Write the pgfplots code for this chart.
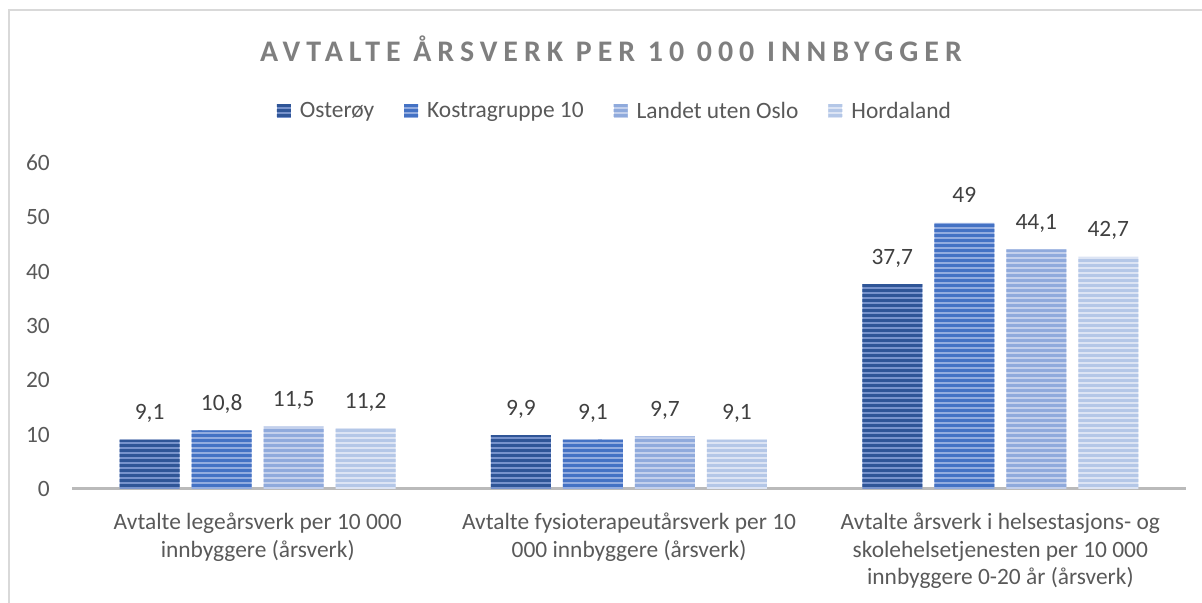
\documentclass[border=0pt]{standalone}
\usepackage{fontspec}
\setmainfont{Carlito}
\newfontfamily\titlefont[LetterSpace=20]{Carlito}
\usepackage{pgfplots}
\pgfplotsset{compat=1.18}
\usetikzlibrary{patterns}
\pgfdeclarepatternformonly{hstripes}{\pgfpoint{-2bp}{0bp}}{\pgfpoint{202bp}{5bp}}{\pgfpoint{200bp}{5bp}}{%
  \pgfpathrectangle{\pgfpoint{-2bp}{1bp}}{\pgfpoint{204bp}{3bp}}\pgfusepath{fill}}
\definecolor{aD}{HTML}{2F5597}\definecolor{aL}{HTML}{7893CC}
\definecolor{bD}{HTML}{4472C4}\definecolor{bL}{HTML}{93ACDF}
\definecolor{cD}{HTML}{8FAADC}\definecolor{cL}{HTML}{C3D0EC}
\definecolor{dD}{HTML}{B4C7E7}\definecolor{dL}{HTML}{DCE4F4}
\definecolor{tickc}{HTML}{595959}
\definecolor{labc}{HTML}{404040}
\definecolor{titc}{HTML}{7F7F7F}
\newcommand\lab{\fontsize{23.5}{27.5}\selectfont}
\begin{document}
\begin{tikzpicture}[x=1bp,y=1bp]
\useasboundingbox (0,0) rectangle (1202,603);
\draw[color=black!15, line width=2bp] (9,-20) -- (9,593) -- (1230,593);
\begin{axis}[
  at={(72bp,114bp)}, anchor=south west,
  scale only axis, width=1114bp, height=326bp,
  xmin=-0.5, xmax=2.5, ymin=0, ymax=60,
  ytick={0,10,...,60}, xtick={0,1,2},
  xticklabels={{Avtalte legeårsverk per 10 000\\innbyggere (årsverk)},
               {Avtalte fysioterapeutårsverk per 10\\000 innbyggere (årsverk)},
               {Avtalte årsverk i helsestasjons- og\\skolehelsetjenesten per 10 000\\innbyggere 0-20 år (årsverk)}},
  axis lines*=left,
  x axis line style={draw=black!27, line width=3bp},
  y axis line style={draw=none},
  tick style={draw=none}, major tick length=0pt,
  /pgf/number format/assume math mode=true,
  /pgf/number format/use comma,
  /pgf/number format/1000 sep={},
  yticklabel style={font=\lab, text=tickc, anchor=east, inner sep=0pt, xshift=-22bp},
  xticklabel style={font=\lab, text=tickc, anchor=north, inner sep=0pt, yshift=-24bp, align=center},
  ybar=12bp, bar width=60bp,
  nodes near coords,
  every node near coord/.append style={font=\lab, text=labc, anchor=base, inner sep=0pt, yshift=20bp},
  legend columns=4,
  legend style={draw=none, at={(0.4874,1.1595)}, anchor=center, font=\lab, text=tickc,
    /tikz/every odd column/.append style={column sep=7bp},
    /tikz/every even column/.append style={column sep=28bp}},
  legend image code/.code={\draw[#1,draw=none] (0bp,-7bp) rectangle (14bp,7bp);},
]
\addplot[fill=aL, draw=none, postaction={pattern=hstripes, pattern color=aD}]
  coordinates {(0,9.1) (1,9.9) (2,37.7)};
\addplot[fill=bL, draw=none, postaction={pattern=hstripes, pattern color=bD}]
  coordinates {(0,10.8) (1,9.1) (2,49)};
\addplot[fill=cL, draw=none, postaction={pattern=hstripes, pattern color=cD}]
  coordinates {(0,11.5) (1,9.7) (2,44.1)};
\addplot[fill=dL, draw=none, postaction={pattern=hstripes, pattern color=dD}]
  coordinates {(0,11.2) (1,9.1) (2,42.7)};
\legend{Osterøy, Kostragruppe 10, Landet uten Oslo, Hordaland}
\end{axis}
\node[text=titc, inner sep=0pt] at (611,554) {\titlefont\bfseries\fontsize{30}{35}\selectfont AVTALTE ÅRSVERK PER 10 000 INNBYGGER};
\end{tikzpicture}
\end{document}
